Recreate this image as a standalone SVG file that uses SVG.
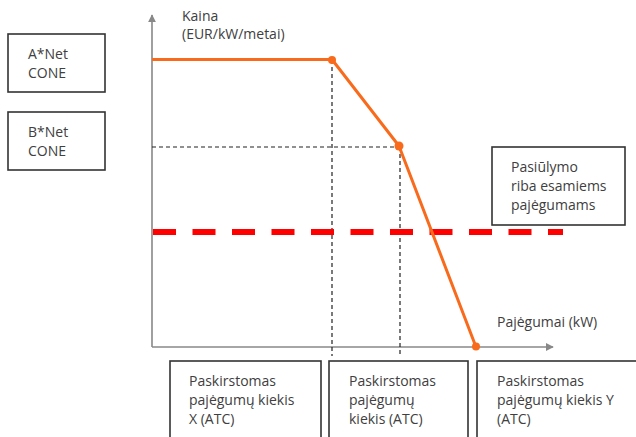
<svg xmlns="http://www.w3.org/2000/svg" width="636" height="437" viewBox="0 0 636 437">
<style>
text{font-family:"Open Sans","Liberation Sans",sans-serif;font-size:14px;fill:#404040}
.box{fill:#fff;stroke:#333;stroke-width:1.6}
.axis{stroke:#888;stroke-width:1.6;fill:none}
.guide{stroke:#222;stroke-width:1.2;stroke-dasharray:4 3;fill:none}
.curve{stroke:#F96B1C;stroke-width:3;fill:none;stroke-linejoin:round}
.pt{fill:#F96B1C}
.bid{stroke:#FF0000;stroke-width:6;stroke-dasharray:23 16.5;fill:none}
</style>
<defs>
<marker id="ah" viewBox="0 0 10 10" refX="9" refY="5" markerWidth="5" markerHeight="5" orient="auto" markerUnits="strokeWidth">
<path d="M0,0 L10,5 L0,10 z" fill="#888"/>
</marker>
</defs>
<g id="connectors">
<path class="axis" d="M152,347 L152,15" marker-end="url(#ah)"/>
<path class="axis" d="M152,347 L553,347" marker-end="url(#ah)"/>
<path class="guide" d="M152,147 L400,147"/>
<path class="guide" d="M332,60 L332,356"/>
<path class="guide" d="M400,147 L400,356"/>
<path class="bid" d="M153,232 L563,232"/>
<path class="curve" d="M152,59.5 L332,59.5 L399,146 L476,347"/>
<circle class="pt" cx="332" cy="60" r="4"/>
<circle class="pt" cx="399" cy="146" r="4.5"/>
<circle class="pt" cx="476" cy="346.5" r="4"/>
</g>
<g id="y-label"><text x="182" y="21">Kaina</text><text x="182" y="39">(EUR/kW/metai)</text></g>
<g id="x-label"><text x="497" y="327">Pajėgumai (kW)</text></g>
<g id="a-net"><rect class="box" x="8" y="34" width="97" height="58"/><text x="28" y="59">A*Net</text><text x="28" y="78">CONE</text></g>
<g id="b-net"><rect class="box" x="8" y="112" width="97" height="58"/><text x="28" y="137">B*Net</text><text x="28" y="156">CONE</text></g>
<g id="bid-limit"><rect class="box" x="492" y="147" width="133" height="78"/><text x="511" y="172">Pasiūlymo</text><text x="511" y="191">riba esamiems</text><text x="511" y="210">pajėgumams</text></g>
<g id="atc-x"><rect class="box" x="170" y="361" width="151" height="82"/><text x="189" y="386">Paskirstomas</text><text x="189" y="405">pajėgumų kiekis</text><text x="189" y="424">X (ATC)</text></g>
<g id="atc"><rect class="box" x="329" y="361" width="139" height="82"/><text x="349" y="386">Paskirstomas</text><text x="349" y="405">pajėgumų</text><text x="349" y="424">kiekis (ATC)</text></g>
<g id="atc-y"><rect class="box" x="477" y="361" width="170" height="82"/><text x="497" y="386">Paskirstomas</text><text x="497" y="405">pajėgumų kiekis Y</text><text x="497" y="424">(ATC)</text></g>
</svg>
